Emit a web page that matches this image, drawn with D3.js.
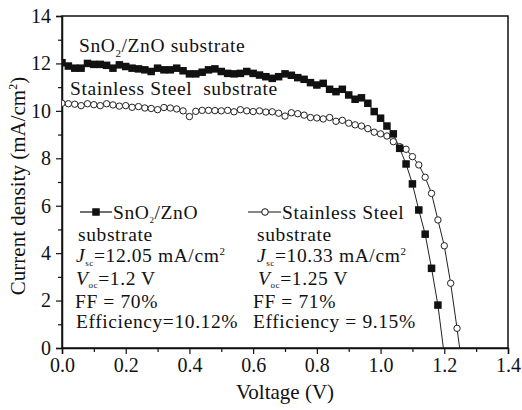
<!DOCTYPE html>
<html>
<head>
<meta charset="utf-8">
<script src="https://cdn.jsdelivr.net/npm/d3@7"></script>
<style>
  html, body { margin: 0; padding: 0; background: #fff; }
  svg text { font-family: "Liberation Serif", "Times New Roman", Times, serif !important; fill: #111; }
  .note { letter-spacing: 0.6px; }
</style>
</head>
<body>
<svg id="chart" width="522" height="410"></svg>
<script>
// J–V curves of two cells (voltage in V, current density in mA/cm²)
const voltageSnO2 = [0.00, 0.02, 0.04, 0.06, 0.08, 0.10, 0.12, 0.14, 0.16, 0.18,
  0.20, 0.22, 0.24, 0.26, 0.28, 0.30, 0.32, 0.34, 0.36, 0.38,
  0.40, 0.42, 0.44, 0.46, 0.48, 0.50, 0.52, 0.54, 0.56, 0.58,
  0.60, 0.62, 0.64, 0.66, 0.68, 0.70, 0.72, 0.74, 0.76, 0.78,
  0.80, 0.82, 0.84, 0.86, 0.88, 0.90, 0.92, 0.94, 0.96, 0.98,
  1.00, 1.02, 1.04, 1.06, 1.08, 1.10, 1.12, 1.14, 1.16, 1.18, 1.20];
const currentSnO2 = [12.03, 11.89, 11.80, 11.80, 12.00, 11.96, 11.96, 11.92, 11.80, 11.94,
  11.87, 11.80, 11.77, 11.73, 11.66, 11.80, 11.73, 11.73, 11.80, 11.69,
  11.56, 11.56, 11.63, 11.73, 11.77, 11.66, 11.58, 11.56, 11.58, 11.66,
  11.58, 11.51, 11.44, 11.37, 11.44, 11.56, 11.50, 11.40, 11.33, 11.19,
  11.09, 11.16, 10.91, 10.81, 10.91, 10.67, 10.49, 10.55, 10.32, 9.97,
  9.69, 9.36, 9.03, 8.42, 7.76, 6.92, 5.82, 4.80, 3.36, 1.81, -0.30];

const voltageSteel = [0.00, 0.02, 0.04, 0.06, 0.08, 0.10, 0.12, 0.14, 0.16, 0.18,
  0.20, 0.22, 0.24, 0.26, 0.28, 0.30, 0.32, 0.34, 0.36, 0.38,
  0.40, 0.42, 0.44, 0.46, 0.48, 0.50, 0.52, 0.54, 0.56, 0.58,
  0.60, 0.62, 0.64, 0.66, 0.68, 0.70, 0.72, 0.74, 0.76, 0.78,
  0.80, 0.82, 0.84, 0.86, 0.88, 0.90, 0.92, 0.94, 0.96, 0.98,
  1.00, 1.02, 1.04, 1.06, 1.08, 1.10, 1.12, 1.14, 1.16, 1.18,
  1.20, 1.22, 1.24, 1.26];
const currentSteel = [10.32, 10.30, 10.28, 10.22, 10.30, 10.26, 10.22, 10.30, 10.25, 10.20,
  10.22, 10.15, 10.18, 10.12, 10.10, 10.05, 10.14, 10.12, 10.08, 10.00,
  9.76, 9.98, 10.02, 10.02, 10.01, 10.00, 10.02, 9.96, 10.05, 10.00,
  9.97, 10.00, 9.95, 9.96, 9.90, 9.78, 9.92, 9.88, 9.82, 9.72,
  9.70, 9.66, 9.72, 9.56, 9.60, 9.48, 9.41, 9.36, 9.25, 9.10,
  9.03, 8.94, 8.70, 8.49, 8.38, 8.07, 7.72, 7.20, 6.52, 5.40,
  4.31, 2.73, 0.83, -1.20];

const xTicks = [0.0, 0.2, 0.4, 0.6, 0.8, 1.0, 1.2, 1.4];
const yTicks = [0, 2, 4, 6, 8, 10, 12, 14];

const serif = '"Liberation Serif", "Times New Roman", Times, serif';
const svg = d3.select("#chart").attr("font-family", serif);
const plot = { left: 62, right: 508, top: 16, bottom: 348 };

const x = d3.scaleLinear().domain([0, 1.4]).range([plot.left, plot.right]);
const y = d3.scaleLinear().domain([0, 14]).range([plot.bottom, plot.top]);

svg.append("rect").attr("width", 522).attr("height", 410).attr("fill", "#fff");

svg.append("defs").append("clipPath").attr("id", "plotClip")
  .append("rect")
  .attr("x", plot.left).attr("y", plot.top)
  .attr("width", plot.right - plot.left).attr("height", plot.bottom - plot.top);

// Axes: major ticks with labels, minor ticks in between
const xAxis = svg.append("g")
  .attr("transform", `translate(0,${plot.bottom})`)
  .call(d3.axisBottom(x).tickValues(xTicks).tickFormat(d3.format(".1f")).tickSize(6).tickPadding(4));
svg.append("g")
  .attr("transform", `translate(0,${plot.bottom})`)
  .call(d3.axisBottom(x).tickValues(d3.range(0.1, 1.4, 0.2)).tickFormat("").tickSize(4))
  .call(g => g.select(".domain").remove());

const yAxis = svg.append("g")
  .attr("transform", `translate(${plot.left},0)`)
  .call(d3.axisLeft(y).tickValues(yTicks).tickSize(6).tickPadding(5));
svg.append("g")
  .attr("transform", `translate(${plot.left},0)`)
  .call(d3.axisLeft(y).tickValues(d3.range(1, 14, 2)).tickFormat("").tickSize(4))
  .call(g => g.select(".domain").remove());

svg.selectAll("g").attr("font-family", serif);
svg.selectAll(".tick line").attr("stroke", "#111").attr("stroke-width", 1.2);
svg.selectAll(".domain").attr("stroke", "#111").attr("stroke-width", 1.5);
xAxis.selectAll("text").attr("font-size", 20);
yAxis.selectAll("text").attr("font-size", 20);

// Frame
svg.append("rect")
  .attr("x", plot.left).attr("y", plot.top)
  .attr("width", plot.right - plot.left).attr("height", plot.bottom - plot.top)
  .attr("fill", "none").attr("stroke", "#111").attr("stroke-width", 1.5);

// Axis titles
svg.append("text")
  .attr("x", x(0.7)).attr("y", 399)
  .attr("text-anchor", "middle").attr("font-size", 21)
  .text("Voltage (V)");

const yTitle = svg.append("text")
  .attr("transform", `translate(25,${(plot.top + plot.bottom) / 2 + 4}) rotate(-90)`)
  .attr("text-anchor", "middle").attr("font-size", 21);
yTitle.append("tspan").text("Current density (mA/cm");
yTitle.append("tspan").attr("font-size", 12).attr("dy", -8).text("2");
yTitle.append("tspan").attr("dy", 8).text(")");

// Curves
const dataSnO2 = d3.zip(voltageSnO2, currentSnO2);
const dataSteel = d3.zip(voltageSteel, currentSteel);
const line = d3.line().x(d => x(d[0])).y(d => y(d[1]));

const curves = svg.append("g").attr("clip-path", "url(#plotClip)");

curves.append("path").datum(dataSteel)
  .attr("d", line).attr("fill", "none").attr("stroke", "#222").attr("stroke-width", 1);
curves.append("path").datum(dataSnO2)
  .attr("d", line).attr("fill", "none").attr("stroke", "#222").attr("stroke-width", 1);

curves.selectAll("circle.steel").data(dataSteel).join("circle")
  .attr("class", "steel")
  .attr("cx", d => x(d[0])).attr("cy", d => y(d[1])).attr("r", 3.2)
  .attr("fill", "#fff").attr("stroke", "#222").attr("stroke-width", 1);

const sq = 7.5;
curves.selectAll("rect.sno2").data(dataSnO2).join("rect")
  .attr("class", "sno2")
  .attr("x", d => x(d[0]) - sq / 2).attr("y", d => y(d[1]) - sq / 2)
  .attr("width", sq).attr("height", sq).attr("fill", "#111");

// Curve labels
const fs = 19.5;
const lab1 = svg.append("text").attr("class", "note").attr("x", 79).attr("y", 52).attr("font-size", fs);
lab1.append("tspan").text("SnO");
lab1.append("tspan").attr("font-size", 11).attr("dy", 5).text("2");
lab1.append("tspan").attr("dy", -5).text("/ZnO substrate");

svg.append("text").attr("class", "note").attr("x", 70).attr("y", 95).attr("font-size", fs)
  .attr("xml:space", "preserve").text("Stainless Steel  substrate");

// Legend with cell parameters
function subText(g, xPos, yPos, main, sub, rest, italic, drop) {
  const t = g.append("text").attr("class", "note").attr("x", xPos).attr("y", yPos).attr("font-size", fs);
  t.append("tspan").attr("font-style", italic ? "italic" : null).text(main);
  t.append("tspan").attr("font-size", 9).attr("dy", drop).text(sub);
  t.append("tspan").attr("dy", -drop).text(rest);
  return t;
}
function note(g, xPos, yPos, str) {
  return g.append("text").attr("class", "note").attr("x", xPos).attr("y", yPos)
    .attr("font-size", fs).text(str);
}

const leg = svg.append("g");
leg.append("line").attr("x1", 80).attr("x2", 112).attr("y1", 212).attr("y2", 212)
  .attr("stroke", "#111").attr("stroke-width", 1.2);
leg.append("rect").attr("x", 96 - sq / 2).attr("y", 212 - sq / 2).attr("width", sq).attr("height", sq).attr("fill", "#111");
subText(leg, 113, 219, "SnO", "2", "/ZnO", false, 4);
note(leg, 78, 241, "substrate");
const j1 = subText(leg, 76, 262, "J", "sc", "=12.05 mA/cm", true, 4);
j1.append("tspan").attr("font-size", 11).attr("dy", -7).text("2");
subText(leg, 76, 285, "V", "oc", "=1.2 V", true, 3);
note(leg, 75, 308, "FF = 70%");
note(leg, 76, 328, "Efficiency=10.12%");

leg.append("line").attr("x1", 248).attr("x2", 281).attr("y1", 212).attr("y2", 212)
  .attr("stroke", "#111").attr("stroke-width", 1);
leg.append("circle").attr("cx", 265).attr("cy", 212).attr("r", 3.3)
  .attr("fill", "#fff").attr("stroke", "#111").attr("stroke-width", 1);
note(leg, 282, 219, "Stainless Steel");
note(leg, 257, 241, "substrate");
const j2 = subText(leg, 257, 262, "J", "sc", "=10.33 mA/cm", true, 4);
j2.append("tspan").attr("font-size", 11).attr("dy", -7).text("2");
subText(leg, 258, 285, "V", "oc", "=1.25 V", true, 3);
note(leg, 253, 308, "FF = 71%");
note(leg, 253, 328, "Efficiency = 9.15%");
</script>
</body>
</html>
